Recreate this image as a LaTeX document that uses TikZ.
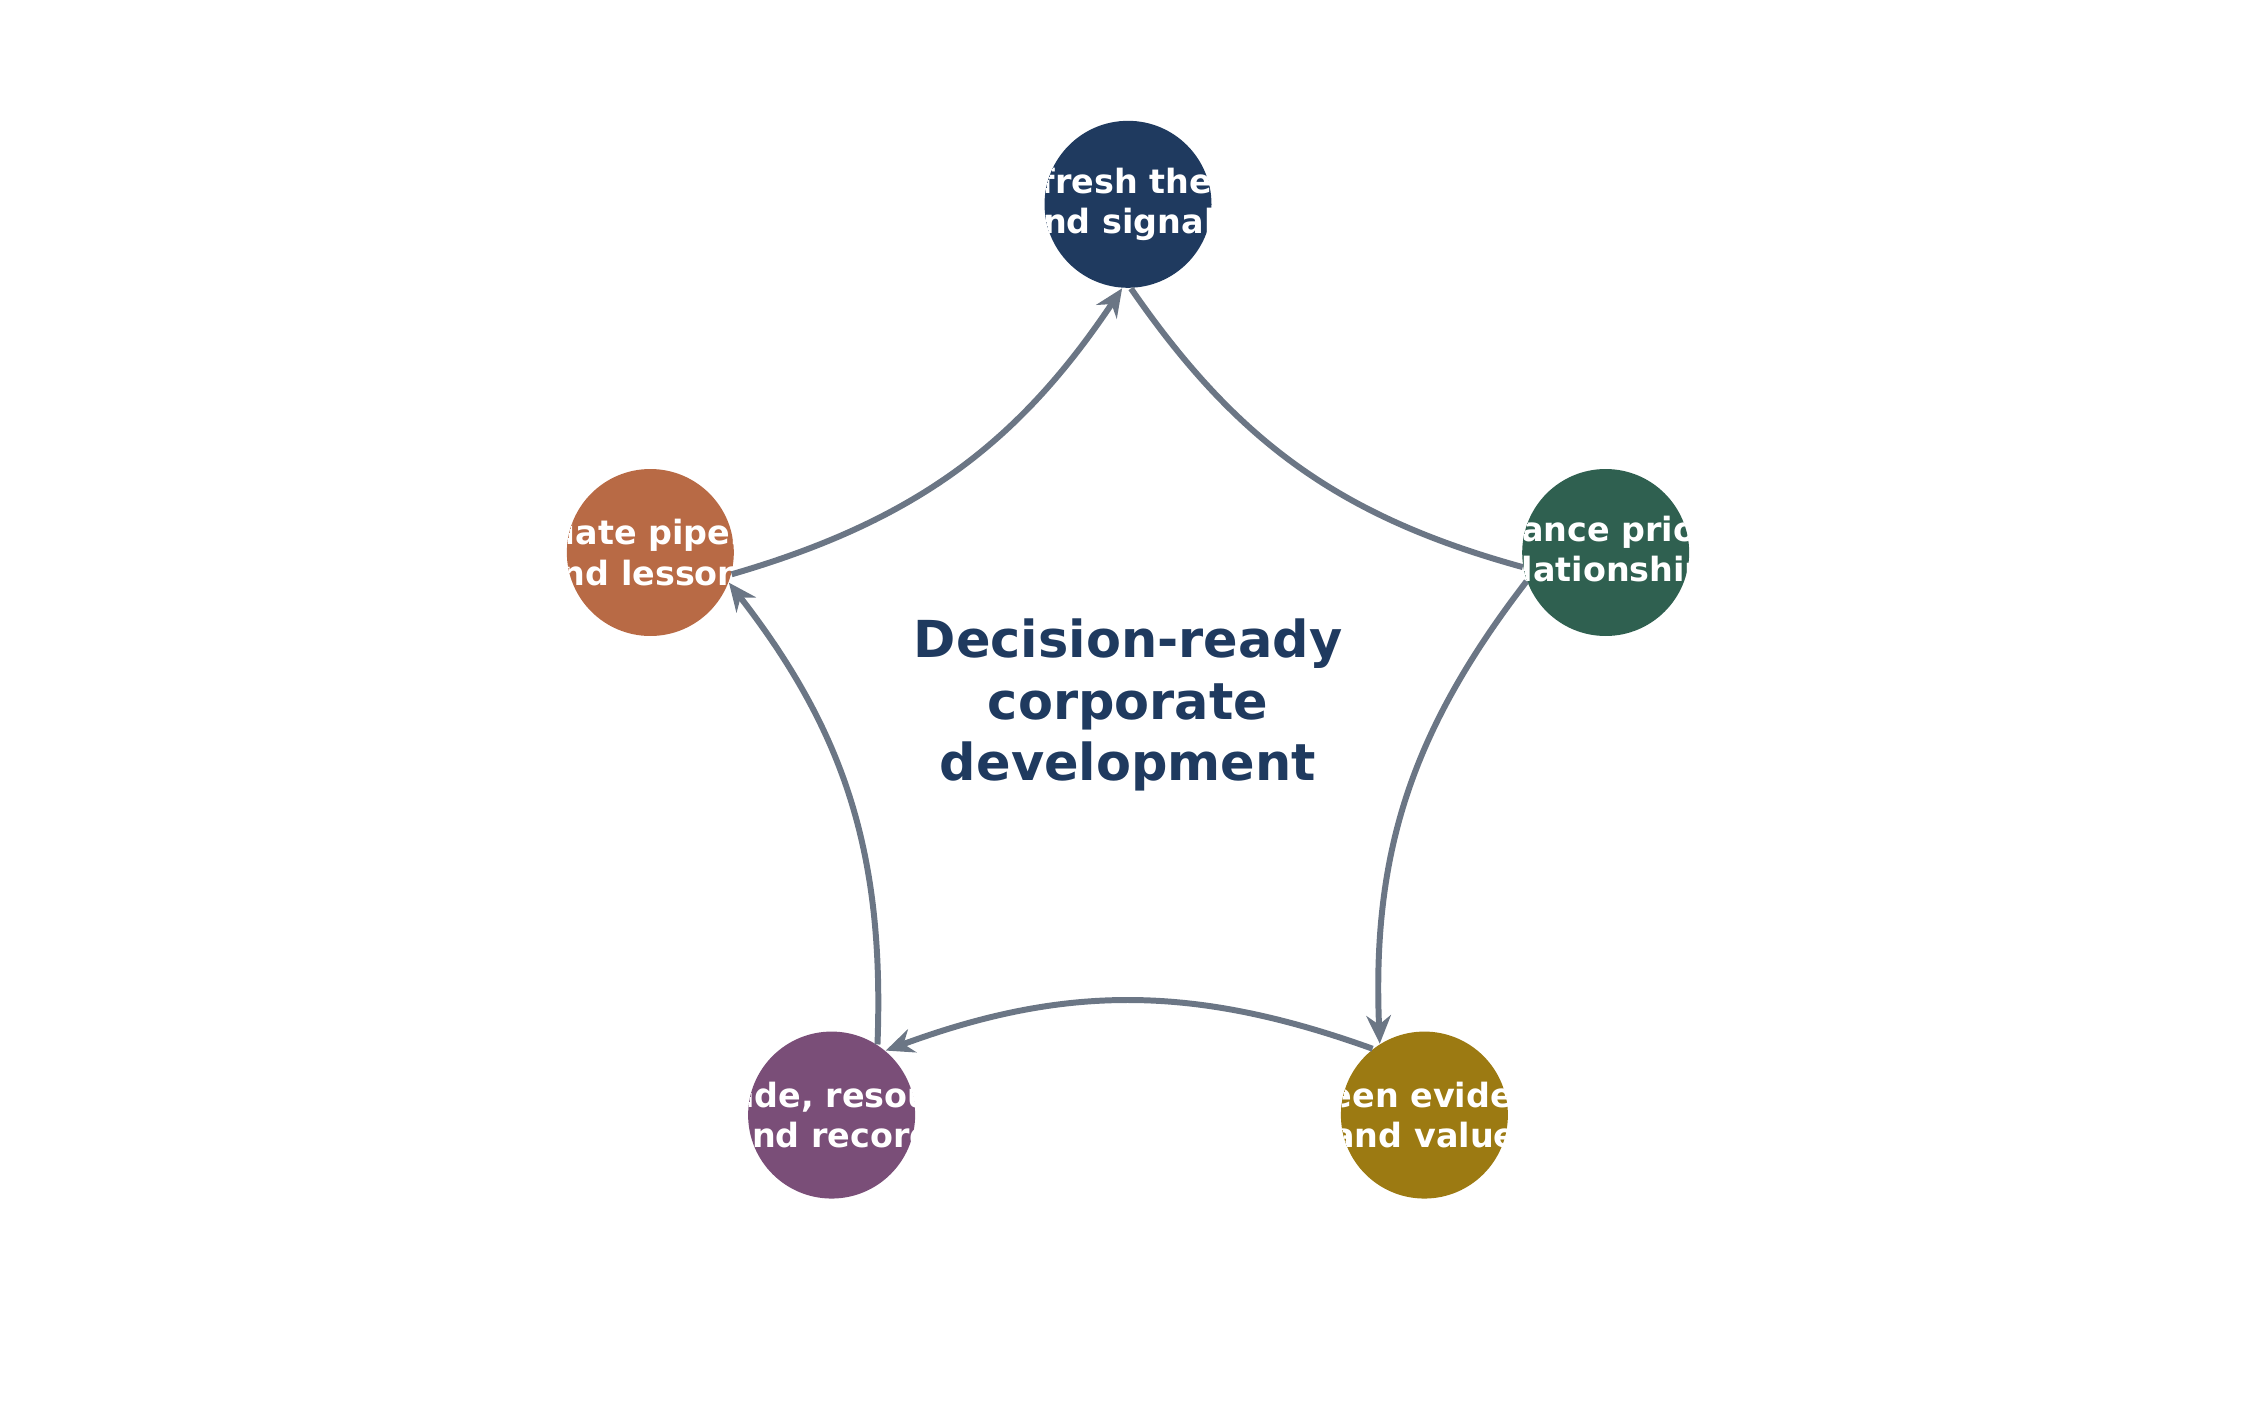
\documentclass[tikz,border=0pt]{standalone}
\usepackage{fontspec}
\setmainfont{DejaVu Sans}
\usetikzlibrary{arrows.meta}
\definecolor{cA}{HTML}{1F3A5F}
\definecolor{cB}{HTML}{2F6050}
\definecolor{cC}{HTML}{9C7A12}
\definecolor{cD}{HTML}{7A4E78}
\definecolor{cE}{HTML}{B86A45}
\definecolor{gl}{HTML}{6B7685}
\begin{document}
\begin{tikzpicture}[x=0.014388cm,y=-0.014388cm,
  st/.style={circle,minimum size=1.67cm,inner sep=0pt},
  tx/.style={text=white,font=\bfseries\fontsize{9.5}{11.5}\selectfont,align=center},
  ed/.style={draw=gl,line width=1.7pt,-{Stealth[length=8pt,width=7pt]},bend right=20}]
\useasboundingbox (0,0) rectangle (1568,984);
\node[st,fill=cA] (a) at (784,142) {};
\node[st,fill=cB] (b) at (1116,384) {};
\node[st,fill=cC] (c) at (990,775) {};
\node[st,fill=cD] (d) at (578,775) {};
\node[st,fill=cE] (e) at (452,384) {};
\begin{scope}\clip (784,142) circle[radius=0.835cm];
\node[tx] (ta) at (a) {Refresh thesis\\and signals};\end{scope}
\begin{scope}\clip (1116,384) circle[radius=0.835cm];
\node[tx] (tb) at (b) {Advance priority\\relationships};\end{scope}
\begin{scope}\clip (990,775) circle[radius=0.835cm];
\node[tx] (tc) at (c) {Screen evidence\\and value};\end{scope}
\begin{scope}\clip (578,775) circle[radius=0.835cm];
\node[tx] (td) at (d) {Decide, resource\\and record};\end{scope}
\begin{scope}\clip (452,384) circle[radius=0.835cm];
\node[tx] (te) at (e) {Update pipeline\\and lessons};\end{scope}
\node[text=cA,font=\bfseries\fontsize{14.5}{17.5}\selectfont,align=center] (m) at (784,490) {Decision-ready\\corporate\\development};
\draw[ed,-] (a.-88) to (b.190);
\draw[ed] (b.200) to (c.122);
\draw[ed] (c.128) to (d.50);
\draw[ed] (d.57) to (e.-21);
\draw[ed] (e.-15) to (a.-94);
\end{tikzpicture}
\end{document}
